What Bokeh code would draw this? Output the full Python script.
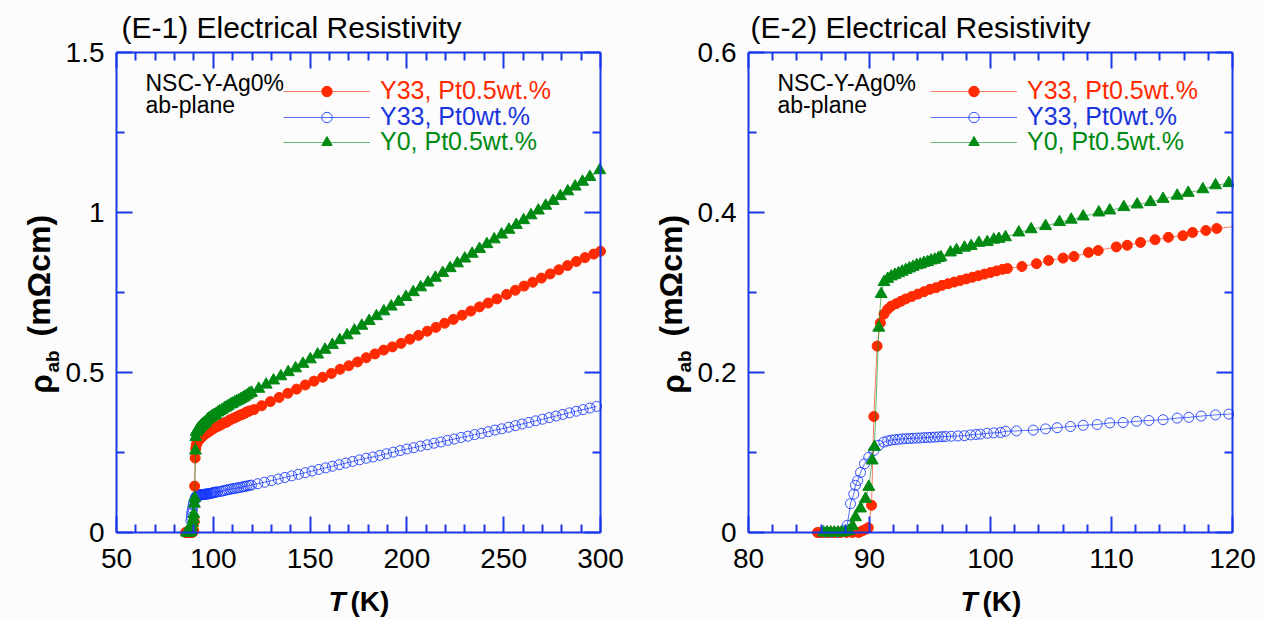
import math
from bokeh.plotting import figure
from bokeh.models import (Range1d, LinearAxis, FixedTicker, NumeralTickFormatter,
                          BasicTickFormatter, CustomJSTickFormatter, Label, Legend,
                          LegendItem, ColumnDataSource, BoxAnnotation)
from bokeh.core.properties import value
from bokeh.layouts import row
from bokeh.embed import file_html
from bokeh.resources import INLINE

# ---------------- data ----------------
# Y33, Pt0.5wt.%
T_red = [85.7, 86.1, 86.6, 87.1, 87.6, 88.1, 88.6, 89.1, 89.4, 89.7, 89.9,
         90.17, 90.36, 90.63, 90.9,
         91.2, 91.5, 91.8, 92.2, 92.6, 93.0, 93.5, 94.0, 94.5, 95.0, 95.5, 96.0, 96.5, 97.0,
         97.5, 98.0, 98.5, 99.0, 99.5, 100.0, 100.5, 101.0, 101.4,
         102.6, 103.8, 104.8, 106.0, 106.9, 108.1, 108.9, 110.4, 111.3, 112.4, 113.6, 114.7,
         115.9, 116.7, 117.8, 118.7,
         121, 125, 129.5, 134, 138.5, 143, 147.5, 152, 156.5, 161, 165.5, 170, 174.5, 179,
         183.5, 188, 192.5, 197, 201.5, 206, 210.5, 215, 219.5, 224, 228.5, 233, 237.5, 242,
         246.5, 251.5, 256, 260.5, 265, 269.5, 274, 278.5, 283, 287.5, 292, 296.5, 300]
rho_red = [0, 0, 0, 0, 0, 0, 0, 0, 0.002, 0.004, 0.006,
           0.034, 0.145, 0.233, 0.262,
           0.273, 0.279, 0.283, 0.286, 0.289, 0.292, 0.295, 0.298, 0.301, 0.304, 0.306, 0.309,
           0.311, 0.313, 0.315, 0.317, 0.319, 0.321, 0.323, 0.325, 0.327, 0.329, 0.330,
           0.3325, 0.336, 0.340, 0.343, 0.345, 0.350, 0.3525, 0.357, 0.359, 0.3625, 0.366, 0.369,
           0.371, 0.375, 0.3775, 0.380,
           0.384, 0.396, 0.409, 0.422, 0.435, 0.448, 0.461, 0.473, 0.485, 0.497, 0.510, 0.521,
           0.533, 0.546, 0.558, 0.570, 0.580, 0.591, 0.604, 0.616, 0.629, 0.641, 0.654, 0.666,
           0.679, 0.692, 0.705, 0.717, 0.730, 0.744, 0.757, 0.770, 0.782, 0.795, 0.808, 0.821,
           0.834, 0.847, 0.859, 0.870, 0.879]

# Y33, Pt0wt.%
T_blue = [85.9, 86.4, 86.9, 87.4, 87.8, 88.16, 88.43, 88.7, 88.84, 89.03, 89.26, 89.59, 89.94,
          90.36, 90.77, 91.18,
          91.5, 91.8, 92.1, 92.4, 92.7, 93.0, 93.3, 93.6, 93.9, 94.2, 94.5, 94.8, 95.1, 95.4,
          95.7, 96.0, 96.3,
          96.75, 97.3, 97.85, 98.35, 98.8, 99.17, 99.73, 100.27, 100.83, 101.24,
          102.15, 103.53, 104.55, 105.51, 106.61, 107.66, 108.82, 109.86, 110.96, 112.07,
          113.09, 114.26, 115.43, 116.39, 117.41, 118.6, 119.7,
          123, 126.5, 130, 133.5, 137, 140.5, 144, 147.5, 151, 154.5,
          158, 161.5, 165, 168.5, 172, 175.5, 179, 182.5, 186, 189.5,
          193, 196.5, 200, 203.5, 207, 210.5, 214, 217.5, 221, 224.5,
          228, 231.5, 235, 238.5, 242, 245.5, 249, 252.5, 256, 259.5,
          263, 266.5, 270, 273.5, 277, 280.5, 284, 287.5, 291, 294.5, 298]
rho_blue = [0, 0, 0, 0, 0.002, 0.009, 0.036, 0.048, 0.059, 0.065, 0.075, 0.086, 0.094,
            0.1025, 0.109, 0.113,
            0.1145, 0.1155, 0.116, 0.1165, 0.117, 0.1172, 0.1175, 0.1178, 0.118, 0.1182,
            0.1185, 0.1188, 0.119, 0.1192, 0.1195, 0.1198, 0.120,
            0.1203, 0.1207, 0.121, 0.122, 0.1225, 0.123, 0.124, 0.1245, 0.125, 0.1265,
            0.127, 0.128, 0.1295, 0.131, 0.1325, 0.134, 0.135, 0.137, 0.1375, 0.139,
            0.140, 0.141, 0.143, 0.144, 0.1455, 0.147, 0.148,
            0.1525, 0.157, 0.162, 0.167, 0.172, 0.177, 0.182, 0.187, 0.192, 0.197,
            0.202, 0.207, 0.212, 0.217, 0.222, 0.227, 0.232, 0.236, 0.241, 0.246,
            0.251, 0.256, 0.261, 0.265, 0.270, 0.274, 0.279, 0.283, 0.288, 0.292,
            0.297, 0.301, 0.306, 0.310, 0.315, 0.320, 0.324, 0.329, 0.334, 0.339,
            0.344, 0.349, 0.354, 0.359, 0.364, 0.369, 0.374, 0.379, 0.384, 0.389, 0.394]

# Y0, Pt0.5wt.%
T_green = [86.2, 86.5, 86.8, 87.1, 87.4, 87.7, 88.0, 88.3, 88.6,
           88.84, 89.26, 89.67, 89.94, 90.22, 90.41, 90.77, 90.96,
           91.2, 91.5, 91.8, 92.1, 92.4, 92.7, 93.0, 93.3, 93.6, 93.9, 94.2, 94.5, 94.8, 95.1,
           95.4, 95.7, 95.9,
           96.69, 97.19, 97.85, 98.4, 99.04, 99.73, 100.27, 100.69, 101.24,
           102.34, 103.36, 104.55, 105.7, 106.67, 107.66, 108.95, 109.86, 111.02, 112.12,
           113.22, 114.26, 115.43, 116.34, 117.55, 118.6, 119.7,
           123.5, 127.3, 131.1, 134.9, 138.7, 142.5, 146.3, 150.1, 153.9, 157.7,
           161.5, 165.3, 169.1, 172.9, 176.7, 180.5, 184.3, 188.1, 191.9, 195.7,
           199.5, 203.3, 207.1, 210.9, 214.7, 218.5, 222.3, 226.1, 229.9, 233.7,
           237.5, 241.3, 245.1, 248.9, 252.7, 256.5, 260.3, 264.1, 267.9, 271.7,
           275.5, 279.3, 283.1, 286.9, 290.7, 294.5, 299.6]
rho_green = [0, 0, 0, 0, 0, 0, 0.001, 0.002, 0.008,
             0.019, 0.030, 0.042, 0.057, 0.090, 0.107, 0.256, 0.298,
             0.313, 0.317, 0.320, 0.322, 0.324, 0.326, 0.328, 0.330, 0.332, 0.334, 0.335,
             0.337, 0.338, 0.340, 0.341, 0.343, 0.344,
             0.350, 0.353, 0.356, 0.358, 0.362, 0.363, 0.366, 0.367, 0.369,
             0.375, 0.379, 0.383, 0.388, 0.391, 0.395, 0.400, 0.4025, 0.4067, 0.410,
             0.413, 0.417, 0.421, 0.4245, 0.429, 0.434, 0.4367,
             0.449, 0.462, 0.475, 0.488, 0.501, 0.513, 0.527, 0.541, 0.556, 0.571,
             0.586, 0.601, 0.616, 0.631, 0.646, 0.661, 0.676, 0.691, 0.706, 0.721,
             0.736, 0.751, 0.766, 0.781, 0.796, 0.811, 0.826, 0.841, 0.856, 0.871,
             0.886, 0.901, 0.916, 0.931, 0.946, 0.961, 0.976, 0.991, 1.006, 1.021,
             1.036, 1.051, 1.066, 1.081, 1.096, 1.111, 1.132]

series_names = ["Y33, Pt0.5wt.%", "Y33, Pt0wt.%", "Y0, Pt0.5wt.%"]
titles = ["(E-1) Electrical Resistivity", "(E-2) Electrical Resistivity"]
note_lines = ["NSC-Y-Ag0%", "ab-plane"]

# tick positions
x1_major = [50, 100, 150, 200, 250, 300]
x1_minor = [60, 70, 80, 90, 110, 120, 130, 140, 160, 170, 180, 190, 210, 220, 230, 240,
            260, 270, 280, 290]
y1_major = [0, 0.5, 1, 1.5]
y1_minor = [0.25, 0.75, 1.25]
x2_major = [80, 90, 100, 110, 120]
x2_minor = [82, 84, 86, 88, 92, 94, 96, 98, 102, 104, 106, 108, 112, 114, 116, 118]
y2_major = [0, 0.2, 0.4, 0.6]
y2_minor = [0.1, 0.3, 0.5]

# ---------------- style / layout ----------------
BG = "#fcfcfc"
AX = "#1837e8"
RED = "#ff2a00"
BLUE = "#1436ff"
BLUE_TXT = "#1a35dd"
GREEN = "#008a12"
FONT = "Liberation Sans"

H = 620                       # figure height
W = 632                       # figure width
FL, FR, FT, FB = 116, 600, 52, 532   # drawn frame, pixels inside each figure


def style_axis(ax, show_labels, standoff):
    ax.axis_line_color = AX
    ax.axis_line_width = 2
    ax.major_tick_line_color = AX
    ax.major_tick_line_width = 2
    ax.minor_tick_line_color = AX
    ax.minor_tick_line_width = 2
    ax.major_tick_in = 16
    ax.major_tick_out = 0
    ax.minor_tick_in = 8
    ax.minor_tick_out = 0
    ax.major_label_text_font = FONT
    ax.major_label_text_color = "black"
    ax.major_label_text_font_size = "28px"
    ax.major_label_standoff = standoff
    if not show_labels:
        ax.formatter = CustomJSTickFormatter(code="return ''")


def lab(p, x, y, text, size, style="normal", color="black", angle=0.0):
    p.add_layout(Label(x=x, y=H - y, x_units="screen", y_units="screen", text=text,
                       text_font=FONT, text_font_size=size, text_font_style=style,
                       text_color=color, text_baseline="middle", text_align="left",
                       angle=angle))


def make_plot(xv, yv, xmaj, xmin, ymaj, ymin, title, title_x, leg_x, mask_right):
    sx = (FR - FL) / (xv[1] - xv[0])
    sy = (FB - FT) / (yv[1] - yv[0])
    xr = Range1d(xv[0] - FL / sx, xv[1] + (W - FR) / sx)
    yr = Range1d(yv[0] - (H - FB) / sy, yv[1] + FT / sy)
    p = figure(width=W, height=H, x_range=xr, y_range=yr,
               x_axis_type=None, y_axis_type=None, output_backend="svg",
               toolbar_location=None, min_border=0,
               background_fill_color=BG, border_fill_color=BG, outline_line_color=None)

    src_r = ColumnDataSource(dict(x=T_red, y=rho_red))
    src_b = ColumnDataSource(dict(x=T_blue, y=rho_blue))
    src_g = ColumnDataSource(dict(x=T_green, y=rho_green))

    lb = p.line("x", "y", source=src_b, line_color=BLUE, line_width=1, line_alpha=0.7)
    sb = p.scatter("x", "y", source=src_b, marker="circle", size=10, fill_color=None,
                   line_color=BLUE, line_width=1, line_alpha=0.85)
    lr = p.line("x", "y", source=src_r, line_color=RED, line_width=1, line_alpha=0.6)
    sr = p.scatter("x", "y", source=src_r, marker="circle", size=10, fill_color=RED,
                   line_color=RED)
    lg = p.line("x", "y", source=src_g, line_color=GREEN, line_width=1, line_alpha=0.6)
    sg = p.scatter("x", "y", source=src_g, marker="triangle", size=12, fill_color=GREEN,
                   line_color=GREEN)

    if mask_right:
        # hide what lies beyond the right edge of the drawn frame
        p.add_layout(BoxAnnotation(left=xv[1] + 1.5 / sx, bottom=yv[0] + 0.15 * (yv[1] - yv[0]),
                                   fill_color=BG, fill_alpha=1.0, line_color=None))

    # four axes forming the frame, ticks pointing inwards
    specs = [("below", yv[0], xv, xmaj, xmin, True, 16),
             ("above", yv[1], xv, xmaj, xmin, False, 0),
             ("left", xv[0], yv, ymaj, ymin, True, 12),
             ("right", xv[1], yv, ymaj, ymin, False, 0)]
    for loc, fixed, bounds, maj, mnr, show, so in specs:
        fmt = BasicTickFormatter() if loc in ("below", "above") else NumeralTickFormatter(format="0.[0]")
        ax = LinearAxis(fixed_location=fixed, bounds=bounds,
                        ticker=FixedTicker(ticks=maj, minor_ticks=mnr), formatter=fmt)
        style_axis(ax, show, so)
        p.add_layout(ax, loc)

    rows_y = [92, 118, 143]
    for (rends, name, col, cy) in [([lr, sr], series_names[0], RED, rows_y[0]),
                                   ([lb, sb], series_names[1], BLUE_TXT, rows_y[1]),
                                   ([lg, sg], series_names[2], GREEN, rows_y[2])]:
        leg = Legend(items=[LegendItem(label=value(name), renderers=rends)],
                     location=(leg_x, H - cy - 13), background_fill_alpha=0,
                     border_line_alpha=0, padding=0, margin=0, spacing=0,
                     glyph_width=87, glyph_height=26, label_height=26, label_standoff=10,
                     label_text_font=FONT, label_text_font_size="25px",
                     label_text_color=col)
        p.add_layout(leg)

    # in-plot note
    lab(p, 145, 82, note_lines[0], "23px")
    lab(p, 145, 104, note_lines[1], "23px")
    # title
    lab(p, title_x, 27, title, "30px")
    # x axis label: T (K)
    lab(p, 328, 601, "T", "28px", "bold italic")
    lab(p, 350, 601, "(K)", "28px", "bold")
    # y axis label: rho_ab (mOhm cm)
    rot = math.pi / 2
    lab(p, 41, 393, "ρ", "31px", "bold", angle=rot)
    lab(p, 52, 372, "ab", "19px", "bold", angle=rot)
    lab(p, 38, 336, "(mΩcm)", "32px", "bold", angle=rot)
    return p


p1 = make_plot((50, 300), (0, 1.5), x1_major, x1_minor, y1_major, y1_minor,
               titles[0], 121, 283, False)
p2 = make_plot((80, 120), (0, 0.6), x2_major, x2_minor, y2_major, y2_minor,
               titles[1], 118, 298, True)

layout = row(p1, p2)
open("out.html", "w").write(file_html(layout, INLINE))
